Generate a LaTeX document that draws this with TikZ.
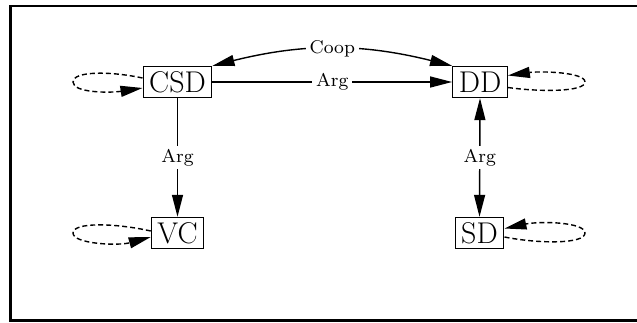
\documentclass[tikz,border=0pt]{standalone}
\usepackage{fontspec}
\newfontfamily\lblfont{lmroman8-regular}[Extension=.otf]
\usetikzlibrary{arrows.meta,calc}
\begin{document}
\begin{tikzpicture}[x=1pt,y=1pt,
  box/.style={draw, line width=1.4pt, inner xsep=6pt, inner ysep=5pt, text height=21pt, text depth=0pt, font=\fontsize{30}{36}\selectfont},
  edge/.style={line width=1.4pt, -{Triangle[length=22pt,width=11pt]}},
  both/.style={line width=1.4pt, {Triangle[length=22pt,width=11pt]}-{Triangle[length=22pt,width=11pt]}},
  selfloop/.style={edge, dash pattern=on 5pt off 3pt},
  lbl/.style={fill=white, inner xsep=4pt, inner ysep=3pt, font=\lblfont\fontsize{18.5}{22}\selectfont}]
\useasboundingbox (0,0) rectangle (637,-322);
\clip (0,0) rectangle (637,-322);
\draw[line width=2.5pt] (10.5,-6.2) rectangle (660,-320.5);

\node[box] (CSD) at (177.5,-82) {CSD};
\node[box] (DD) at (480,-82) {DD};
\node[box] (VC) at (177.5,-233) {VC};
\node[box] (SD) at (479.5,-233) {SD};

\draw[edge] (CSD.east) -- node[lbl]{Arg} (DD.west);
\draw[edge] (CSD.south) -- node[lbl]{Arg} (VC.north);
\draw[both] (DD.south) -- node[lbl]{Arg} (SD.north);
\draw[both] (CSD.north east) to[bend left=14] node[lbl]{Coop} (DD.north west);

\draw[selfloop] ([yshift=4pt]CSD.west) .. controls (110,-71) and (73,-71) .. (73,-82) .. controls (73,-93) and (110,-93) .. ([yshift=-6pt]CSD.west);
\draw[selfloop] ([yshift=-5.5pt]DD.east) .. controls (540,-92) and (585,-92) .. (585,-82) .. controls (585,-72) and (540,-71) .. ([yshift=6.5pt]DD.east);
\draw[selfloop] ([yshift=2pt]VC.west) .. controls (115,-223) and (73,-222) .. (73,-233) .. controls (73,-244) and (118,-246) .. ([yshift=-4pt]VC.west);
\draw[selfloop] ([yshift=-4pt]SD.east) .. controls (540,-244) and (585,-244) .. (585,-233) .. controls (585,-222) and (540,-221) .. ([yshift=4.5pt]SD.east);
\end{tikzpicture}
\end{document}
